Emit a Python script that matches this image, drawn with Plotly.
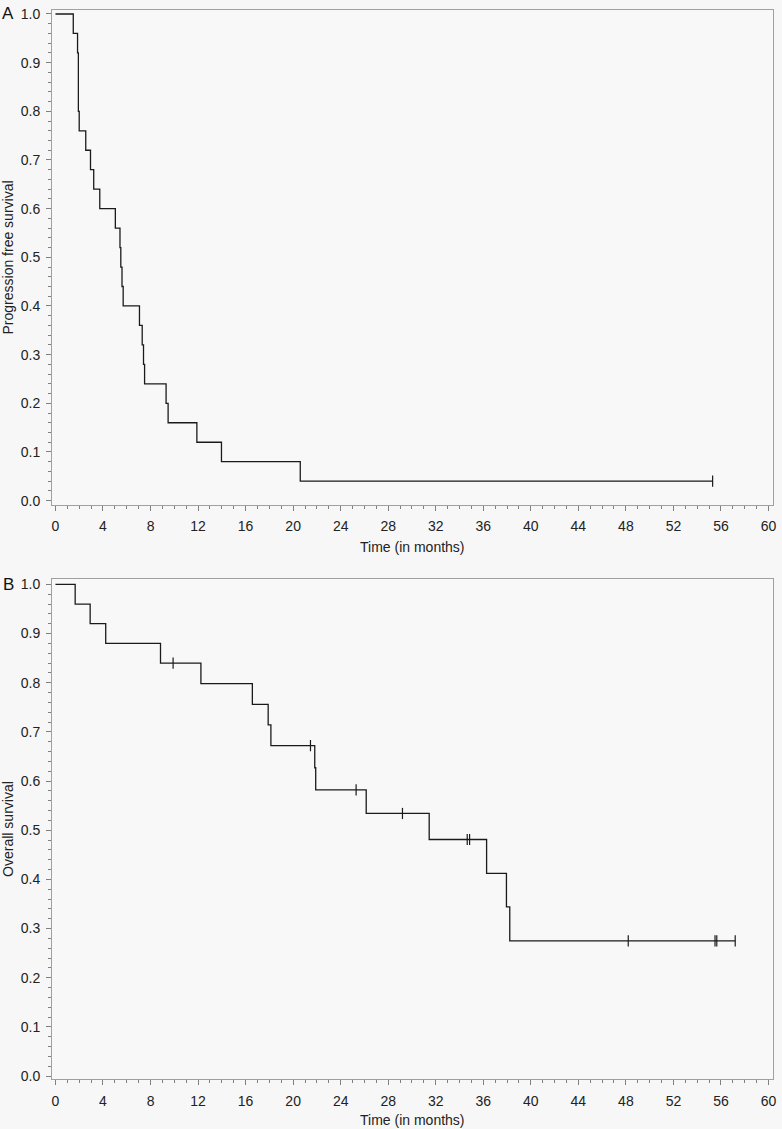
import plotly.graph_objects as go

# ---- Data ----
pfs_time = [0, 1.5, 1.86, 1.93, 2.0, 2.55, 2.95, 3.22, 3.73, 5.04, 5.43, 5.5, 5.6, 5.7,
            7.07, 7.3, 7.41, 7.5, 9.31, 9.48, 11.9, 13.97, 20.6, 55.3]
pfs_surv = [1.0, 0.96, 0.92, 0.80, 0.76, 0.72, 0.68, 0.64, 0.60, 0.56, 0.52, 0.48, 0.44, 0.40,
            0.36, 0.32, 0.28, 0.24, 0.20, 0.16, 0.12, 0.08, 0.04, 0.04]
pfs_cens_time = [55.3]
pfs_cens_surv = [0.04]

os_time = [0, 1.66, 2.92, 4.23, 8.84, 12.24, 16.57, 17.9, 18.13, 21.82, 21.9, 26.15,
           31.45, 36.28, 37.95, 38.23, 57.2]
os_surv = [1.0, 0.96, 0.92, 0.88, 0.84, 0.798, 0.756, 0.714, 0.672, 0.627, 0.582, 0.534,
           0.481, 0.412, 0.344, 0.275, 0.275]
os_cens_time = [9.9, 21.46, 25.3, 29.2, 34.65, 34.85, 48.2, 55.5, 55.65, 57.2]
os_cens_surv = [0.84, 0.672, 0.582, 0.534, 0.481, 0.481, 0.275, 0.275, 0.275, 0.275]

x_tickvals = list(range(0, 61, 4))
y_tickvals = [round(i * 0.1, 1) for i in range(11)]
y_ticktext = [f"{v:.1f}" for v in y_tickvals]

# ---- Figure ----
W, H = 782, 1129
ML, MR, MT, MB = 52, 6, 7, 50
plot_h = H - MT - MB

def py(px):
    return (H - MB - px) / plot_h

def pxr(px):
    return (px - ML) / (W - ML - MR)

fig = go.Figure()
line_col = "#1a1a1a"
fig.add_trace(go.Scatter(x=pfs_time, y=pfs_surv, mode="lines", line=dict(shape="hv", color=line_col, width=1.3),
                         xaxis="x", yaxis="y", showlegend=False))
fig.add_trace(go.Scatter(x=pfs_cens_time, y=pfs_cens_surv, mode="markers",
                         marker=dict(symbol="line-ns", size=8, line=dict(width=1.2, color=line_col)),
                         xaxis="x", yaxis="y", showlegend=False))
fig.add_trace(go.Scatter(x=os_time, y=os_surv, mode="lines", line=dict(shape="hv", color=line_col, width=1.3),
                         xaxis="x2", yaxis="y2", showlegend=False))
fig.add_trace(go.Scatter(x=os_cens_time, y=os_cens_surv, mode="markers",
                         marker=dict(symbol="line-ns", size=8, line=dict(width=1.2, color=line_col)),
                         xaxis="x2", yaxis="y2", showlegend=False))

font_fam = "Liberation Sans, Arial, sans-serif"
tick_font = dict(family=font_fam, size=14, color="#222222")
frame_col = "#a0a0a0"
tick_col = "#808080"

def xaxis_cfg(anchor):
    return dict(anchor=anchor, domain=[0, 1], range=[-0.29, 60.38], tickmode="array",
                tickvals=x_tickvals, ticktext=[str(v) for v in x_tickvals],
                ticks="outside", ticklen=5, tickwidth=1, tickcolor=tick_col,
                minor=dict(dtick=1, tick0=0, ticks="outside", ticklen=3, tickcolor=tick_col, showgrid=False),
                showline=True, linecolor=frame_col, linewidth=1, mirror=True,
                showgrid=False, zeroline=False, tickfont=tick_font, ticklabelstandoff=4)

def yaxis_cfg(anchor, dom, rng):
    return dict(anchor=anchor, domain=dom, range=rng, tickmode="array",
                tickvals=y_tickvals, ticktext=y_ticktext,
                ticks="outside", ticklen=5, tickwidth=1, tickcolor=tick_col,
                minor=dict(dtick=0.02, tick0=0, ticks="outside", ticklen=3, tickcolor=tick_col, showgrid=False),
                showline=True, linecolor=frame_col, linewidth=1, mirror=True,
                showgrid=False, zeroline=False, tickfont=tick_font, ticklabelstandoff=3)

domA = [py(503), 1.0]
domB = [0.0, py(578)]

fig.update_layout(
    width=W, height=H,
    margin=dict(l=ML, r=MR, t=MT, b=MB, pad=0),
    paper_bgcolor="#f7f7f7", plot_bgcolor="#f8f8f8",
    xaxis=xaxis_cfg("y"),
    yaxis=yaxis_cfg("x", domA, [-0.0082, 1.0082]),
    xaxis2=xaxis_cfg("y2"),
    yaxis2=yaxis_cfg("x2", domB, [-0.0061, 1.0101]),
    font=dict(family=font_fam, color="#222222"),
    hovermode=False,
)

title_font = dict(family=font_fam, size=14, color="#222222")
ann = [
    dict(text="Time (in months)", x=0.5, y=py(546), xref="paper", yref="paper",
         showarrow=False, font=title_font, xanchor="center", yanchor="middle"),
    dict(text="Time (in months)", x=0.5, y=py(1120), xref="paper", yref="paper",
         showarrow=False, font=title_font, xanchor="center", yanchor="middle"),
    dict(text="Progression free survival", x=pxr(8), y=py(255), xref="paper", yref="paper",
         showarrow=False, font=title_font, textangle=-90, xanchor="center", yanchor="middle"),
    dict(text="Overall survival", x=pxr(8), y=py(828), xref="paper", yref="paper",
         showarrow=False, font=title_font, textangle=-90, xanchor="center", yanchor="middle"),
    dict(text="A", x=pxr(8), y=py(11), xref="paper", yref="paper",
         showarrow=False, font=dict(family=font_fam, size=17, color="#111111"), xanchor="center", yanchor="middle"),
    dict(text="B", x=pxr(8), y=py(583), xref="paper", yref="paper",
         showarrow=False, font=dict(family=font_fam, size=17, color="#111111"), xanchor="center", yanchor="middle"),
]
fig.update_layout(annotations=ann)

fig.write_html("out.html",
               config={"displayModeBar": False, "staticPlot": True},
               post_script="document.body.style.margin='0';document.body.style.overflow='hidden';"
                           "document.body.style.background='#f7f7f7';")
